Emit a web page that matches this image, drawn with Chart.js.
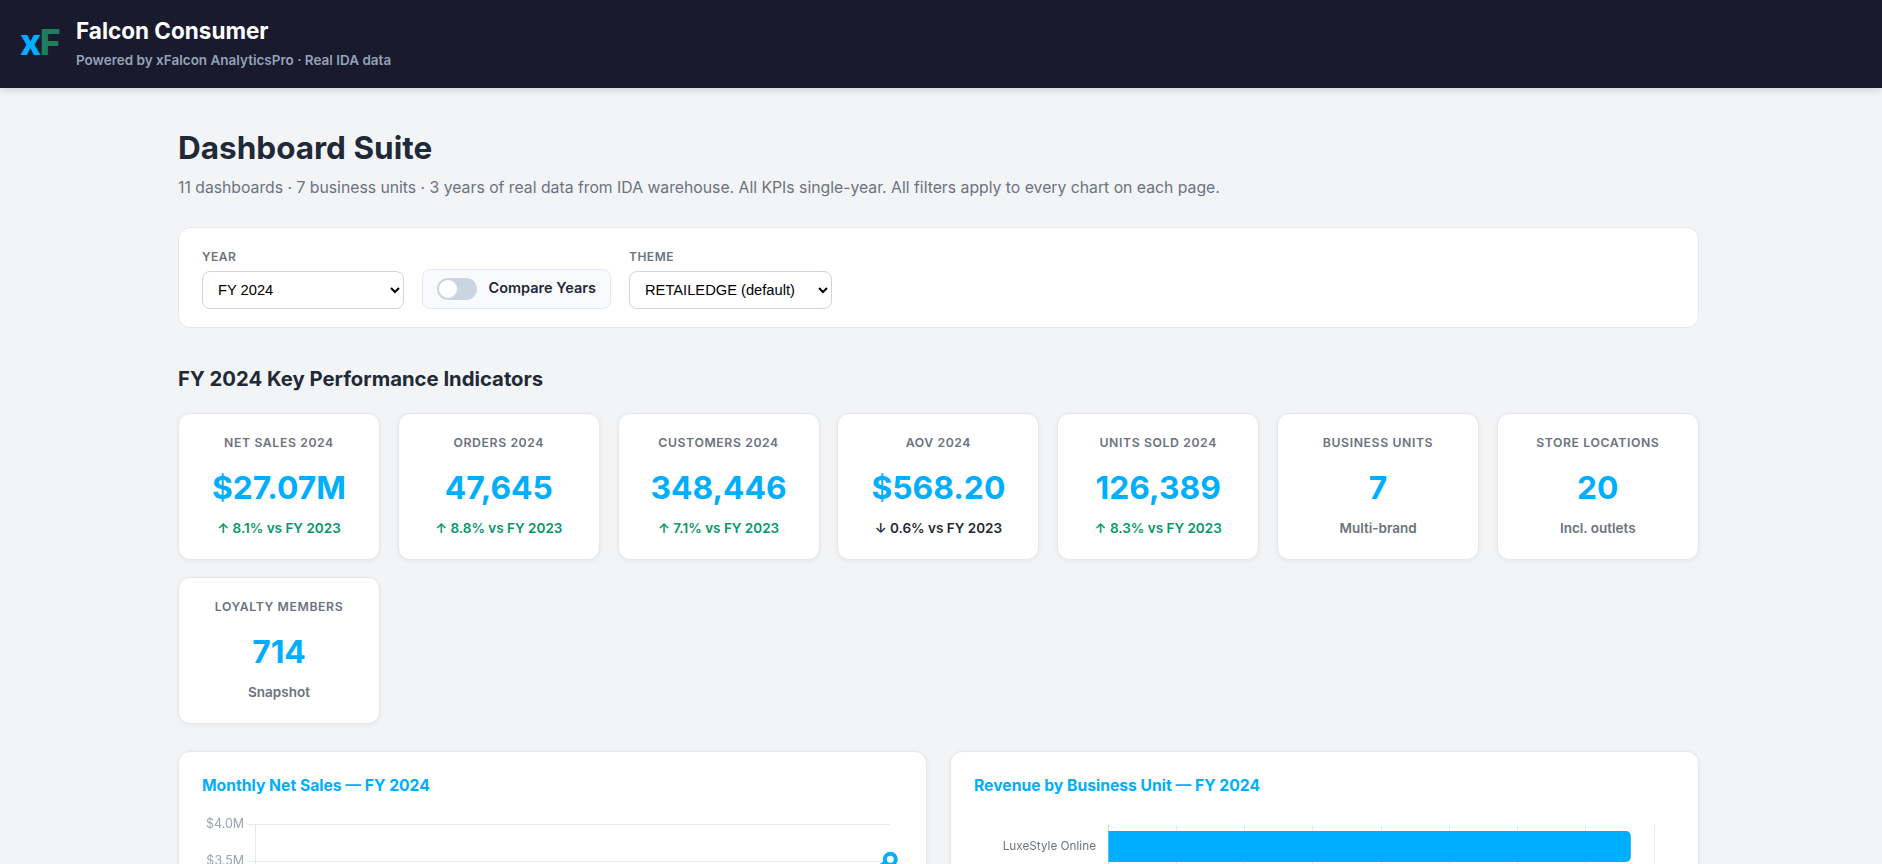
<!DOCTYPE html>
<html><head><meta charset="utf-8">
<script src="https://cdn.jsdelivr.net/npm/chart.js@4"></script>
<style>
*{box-sizing:border-box;margin:0;padding:0}
html,body{width:1882px;height:864px;overflow:hidden;background:#f3f4f6;font-family:Inter,sans-serif}
.hdr{position:absolute;left:0;top:0;width:1882px;height:88px;background:#1a1a2e;box-shadow:0 2px 8px rgba(0,0,0,.15)}
.logo{position:absolute;left:20px;top:20px;font-size:35.5px;font-weight:800;line-height:46px;letter-spacing:-1.4px}
.logo b{color:#00aeff;font-weight:800}.logo i{color:#1e7f5e;font-style:normal}
.hdr h1{position:absolute;left:76px;top:16px;font-size:22.5px;font-weight:700;color:#fff;line-height:30px}
.hdr p{position:absolute;left:76px;top:51px;font-size:13.5px;font-weight:600;color:#94a3b8;line-height:18px}
h2.t{position:absolute;left:178px;top:127px;font-size:31.5px;font-weight:700;color:#1f2937;line-height:42px}
.sub{position:absolute;left:178px;top:177px;font-size:15.75px;color:#6b7280;line-height:22px}
.filters{position:absolute;left:178px;top:227px;width:1521px;height:101px;background:#fff;border:1px solid #e5e7eb;border-radius:12px}
.lab{position:absolute;top:249px;font-size:12px;font-weight:600;color:#6b7280;letter-spacing:.5px;line-height:16px}
select{position:absolute;top:271px;height:38px;border:1px solid #cbd5e1;border-radius:8px;background:#fff;font-family:"Liberation Sans",Arial,sans-serif;font-size:14.7px;color:#000;padding:0 11px}
.cmp{position:absolute;left:422px;top:269px;width:189px;height:40px;background:#f8fafc;border:1px solid #e2e8f0;border-radius:8px}
.tog{position:absolute;left:14px;top:8px;width:40px;height:22px;background:#cbd5e1;border-radius:11px}
.tog:after{content:"";position:absolute;left:2px;top:2px;width:18px;height:18px;border-radius:50%;background:#fff}
.cmp span{position:absolute;left:65.5px;top:8px;font-size:14.5px;font-weight:600;color:#1f2937;line-height:20px}
h3.k{position:absolute;left:178px;top:365px;font-size:20.3px;font-weight:700;color:#1f2937;line-height:28px}
.card{position:absolute;width:202px;height:147px;background:#fff;border:1px solid #e5e7eb;border-radius:12px;box-shadow:0 1px 4px rgba(0,0,0,.06);text-align:center}
.card .l{position:absolute;left:0;right:0;top:20px;font-size:12.25px;font-weight:600;color:#6b7280;letter-spacing:.6px;line-height:18px}
.card .v{position:absolute;left:0;right:0;top:51px;font-size:31.8px;font-weight:700;color:#00aeff;line-height:46px}
.card .d{position:absolute;left:0;right:0;top:104px;font-size:13.5px;font-weight:600;line-height:20px;color:#6b7280}
.up{color:#059669!important}.dn{color:#1f2937!important}
.panel{position:absolute;top:751px;height:460px;background:#fff;border:1px solid #e5e7eb;border-radius:12px;box-shadow:0 1px 4px rgba(0,0,0,.06)}
.panel h4{position:absolute;left:23px;top:22px;font-size:15.7px;font-weight:700;color:#00aeff;line-height:24px}
.cw{position:absolute;top:62px}
canvas{display:block}
</style></head><body>
<div class="hdr"><div class="logo"><b>x</b><i>F</i></div><h1>Falcon Consumer</h1><p>Powered by xFalcon AnalyticsPro · Real IDA data</p></div>
<h2 class="t">Dashboard Suite</h2>
<div class="sub">11 dashboards · 7 business units · 3 years of real data from IDA warehouse. All KPIs single-year. All filters apply to every chart on each page.</div>
<div class="filters"></div>
<div class="lab" style="left:202px">YEAR</div>
<select style="left:202px;width:202px"><option>FY 2024</option></select>
<div class="cmp"><div class="tog"></div><span>Compare Years</span></div>
<div class="lab" style="left:629px">THEME</div>
<select style="left:629px;width:203px"><option>RETAILEDGE (default)</option></select>
<h3 class="k">FY 2024 Key Performance Indicators</h3>
<div id="cards"></div>
<div class="panel" style="left:178px;width:749px"><h4>Monthly Net Sales — FY 2024</h4><div class="cw" style="left:24px"><canvas id="line" width="702" height="336"></canvas></div></div>
<div class="panel" style="left:950px;width:749px"><h4>Revenue by Business Unit — FY 2024</h4><div class="cw" style="left:23px"><canvas id="bar" width="702" height="340"></canvas></div></div>
<script>
const kpiLabels=["NET SALES 2024","ORDERS 2024","CUSTOMERS 2024","AOV 2024","UNITS SOLD 2024","BUSINESS UNITS","STORE LOCATIONS","LOYALTY MEMBERS"];
const kpiValues=["$27.07M","47,645","348,446","$568.20","126,389","7","20","714"];
const kpiNotes=["↑ 8.1% vs FY 2023","↑ 8.8% vs FY 2023","↑ 7.1% vs FY 2023","↓ 0.6% vs FY 2023","↑ 8.3% vs FY 2023","Multi-brand","Incl. outlets","Snapshot"];
const kpiTone=["up","up","up","dn","up","","",""];
const months=["Jan","Feb","Mar","Apr","May","Jun","Jul","Aug","Sep","Oct","Nov","Dec"];
// Only December is on screen; the other months are estimates that add up to the $27.07M KPI.
const monthlySales=[1.75,1.6,1.9,1.95,2.2,2.1,2.07,2.2,2.25,2.45,3.05,3.53];
// Only the first row is on screen; the remaining rows are estimates that add up to the KPI.
const units=["LuxeStyle Online","","","","","",""];
const unitRevenue=[7.66,5.6,4.4,3.6,2.8,1.9,1.11];
const cards=document.getElementById('cards');
kpiLabels.forEach((l,i)=>{const c=document.createElement('div');c.className='card';
 const col=i%7;c.style.left=(178+col*219.8)+'px';c.style.top=(i<7?413:577)+'px';
 c.innerHTML=`<div class="l">${l}</div><div class="v">${kpiValues[i]}</div><div class="d ${kpiTone[i]}">${kpiNotes[i]}</div>`;
 cards.appendChild(c);});
const tickFont={family:'Inter',size:12.5};
Chart.defaults.animation=false;
new Chart(document.getElementById('line'),{type:'line',data:{labels:months,datasets:[{data:monthlySales,borderColor:'#00aeff',backgroundColor:'rgba(0,174,255,.08)',fill:true,tension:.35,borderWidth:3,pointRadius:5.5,pointBackgroundColor:'#fff',pointBorderColor:'#00aeff',pointBorderWidth:4}]},
options:{responsive:false,maintainAspectRatio:false,plugins:{legend:{display:false}},
scales:{y:{min:0,max:4,ticks:{stepSize:.5,color:'#9ca3af',font:tickFont,callback:v=>'$'+v.toFixed(1)+'M'},grid:{color:'#e5e9f0'},border:{color:'#e2e8f0'}},
x:{ticks:{color:'#9ca3af',font:tickFont},grid:{display:false},border:{color:'#e2e8f0'}}}}});
new Chart(document.getElementById('bar'),{type:'bar',data:{labels:units,datasets:[{data:unitRevenue,backgroundColor:'#00aeff',borderRadius:5}]},
options:{indexAxis:'y',responsive:false,maintainAspectRatio:false,layout:{padding:{top:9,right:7}},plugins:{legend:{display:false}},
scales:{x:{min:0,max:8,ticks:{stepSize:1,color:'#9ca3af',font:tickFont,callback:v=>'$'+v+'.0M'},grid:{color:'#e5e9f0'},border:{color:'#e2e8f0'}},
y:{afterFit:s=>{s.width=134},ticks:{color:'#6b7280',padding:4,font:{family:'Inter',size:11.75}},grid:{display:false},border:{color:'#cbd5e1'}}}}});
</script>
</body></html>
